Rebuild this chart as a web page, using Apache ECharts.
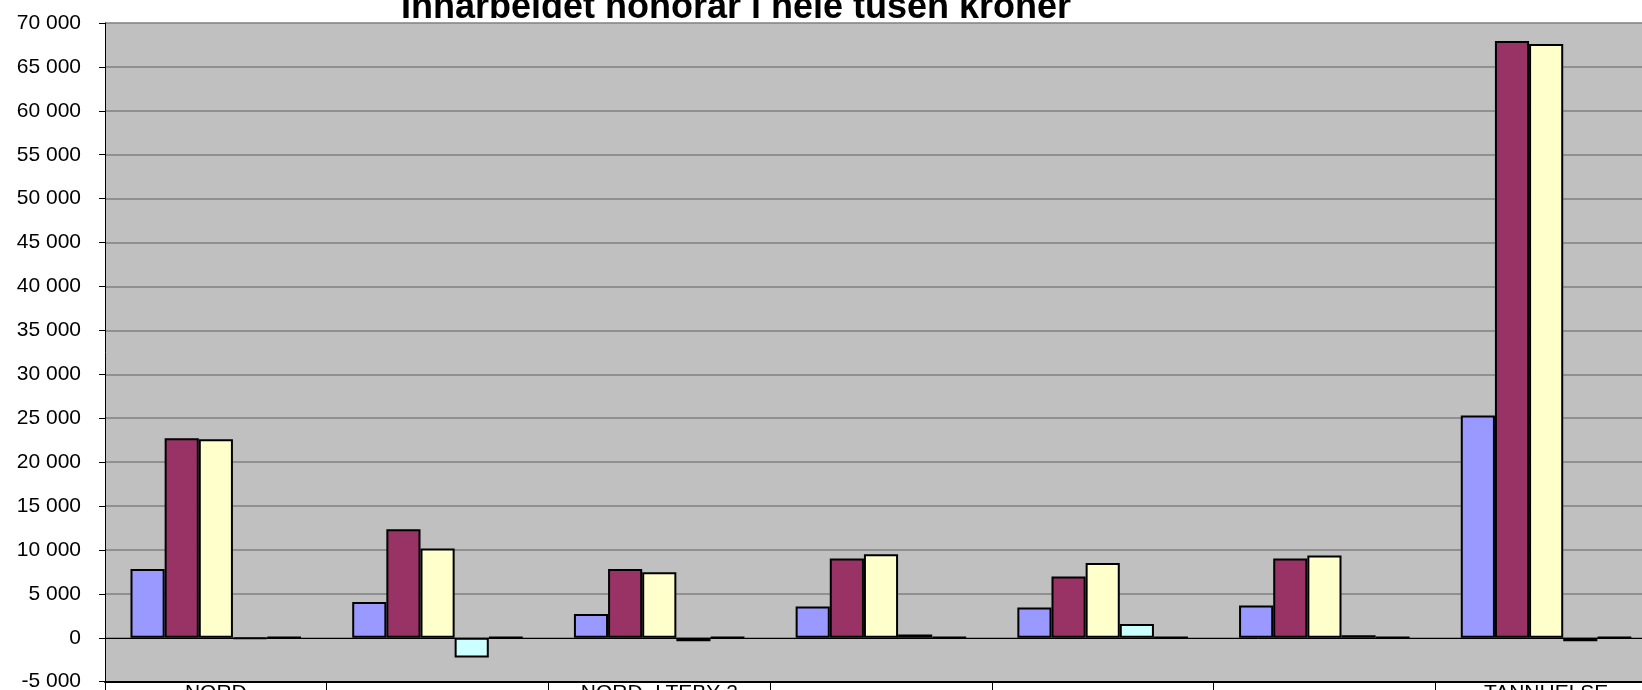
<!DOCTYPE html>
<html>
<head>
<meta charset="utf-8">
<script src="https://cdn.jsdelivr.net/npm/echarts@6/dist/echarts.min.js"></script>
<style>
html,body{margin:0;padding:0;background:#fff;}
#chart{width:1642px;height:690px;}
</style>
</head>
<body>
<div id="chart"></div>
<script>
var titleText = 'Innarbeidet honorar i hele tusen kroner';
var categories = ['NORD', '', 'NORD- LTEBY 2', '', '', '', 'TANNHELSE'];
var series1 = [7830, 4065, 2720, 3560, 3455, 3690, 25320];
var series2 = [22720, 12360, 7830, 9030, 6990, 9020, 67950];
var series3 = [22600, 10160, 7470, 9500, 8520, 9360, 67610];
var series4 = [-100, -2240, -400, 380, 1560, 300, -400];
var series5 = [40, 40, 40, 40, 40, 40, 40];
var yTicks = { min: -5000, max: 70000, interval: 5000 };

var colors = ['#9999FF', '#993366', '#FFFFCC', '#CCFFFF', '#660066'];
var allSeries = [series1, series2, series3, series4, series5];

function fmt(v) {
  var s = String(Math.abs(v)).replace(/\B(?=(\d{3})+(?!\d))/g, ' ');
  return (v < 0 ? '-' : '') + s;
}

var chart = echarts.init(document.getElementById('chart'), null, { renderer: 'canvas' });
var seriesOpts = allSeries.map(function (d, i) {
  var s = {
    type: 'bar',
    data: d,
    barGap: '0%',
    barCategoryGap: '23%',
    itemStyle: { color: colors[i], borderColor: '#000', borderWidth: 2 },
    emphasis: { disabled: true },
    silent: true,
    z: 3
  };
  if (i === 4) {
    s.markLine = {
      silent: true,
      symbol: 'none',
      label: { show: false },
      lineStyle: { color: '#000', type: 'solid', width: 1 },
      data: [{ yAxis: 0 }],
      z: 2
    };
  }
  return s;
});

chart.setOption({
  animation: false,
  backgroundColor: '#ffffff',
  title: {
    text: titleText,
    left: 401,
    top: -10,
    padding: 0,
    textStyle: { fontFamily: 'Liberation Sans, Arial, sans-serif', fontSize: 36, fontWeight: 'bold', color: '#000' }
  },
  grid: {
    left: 105, top: 23, right: -15, bottom: 8.3,
    show: true, backgroundColor: '#C0C0C0', borderWidth: 0,
    containLabel: false,
    outerBoundsMode: 'none'
  },
  xAxis: {
    type: 'category',
    data: categories,
    axisLine: { onZero: false, lineStyle: { color: '#000', width: 2 } },
    axisTick: { show: true, inside: false, length: 12, lineStyle: { color: '#000', width: 1 } },
    axisLabel: {
      interval: 0, margin: 1, color: '#000',
      fontFamily: 'Liberation Sans, Arial, sans-serif', fontSize: 21
    },
    splitLine: { show: false }
  },
  yAxis: {
    type: 'value',
    min: yTicks.min, max: yTicks.max, interval: yTicks.interval,
    axisLine: { show: true, lineStyle: { color: '#000', width: 1 } },
    axisTick: { show: true, inside: false, length: 6, lineStyle: { color: '#000' } },
    axisLabel: {
      margin: 24, color: '#000',
      fontFamily: 'Liberation Sans, Arial, sans-serif', fontSize: 21,
      formatter: fmt
    },
    splitLine: { show: true, lineStyle: { color: '#808080', width: 1.5 } }
  },
  series: seriesOpts
});
</script>
</body>
</html>
